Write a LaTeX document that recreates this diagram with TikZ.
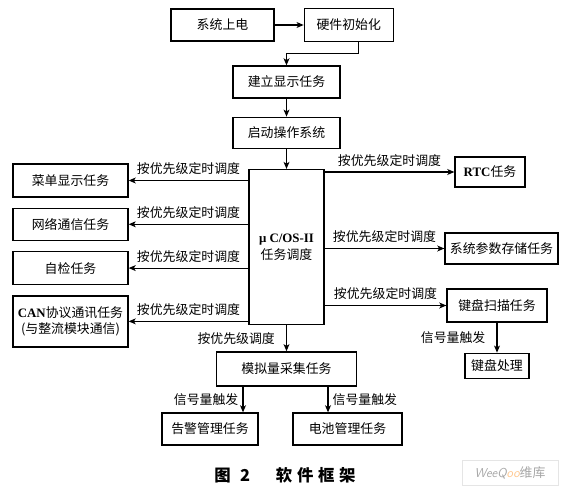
\documentclass[tikz,border=0pt]{standalone}
\usepackage{fontspec}
\setmainfont{Liberation Serif}
\newfontfamily\cjk{Noto Sans CJK SC}
\usetikzlibrary{positioning,arrows.meta}

\begin{document}
\begin{tikzpicture}[
	box/.style={draw, line width=1.1pt, minimum height=0.96cm, inner sep=1pt,
		align=center, font=\cjk\fontsize{11}{14}\selectfont},
	lbl/.style={font=\cjk\fontsize{11}{12}\selectfont, inner sep=1.5pt},
	arrow/.style={-{Stealth[length=6pt,width=5pt,inset=1.5pt]}, line width=0.9pt}
	]
	\useasboundingbox (0,0) rectangle (16.98,-14.73);
	\node[box, minimum width=3.09cm] (power) at (6.675,-0.75) {系统上电};
	\node[box, minimum width=2.67cm, minimum height=0.99cm, right=0.87cm of power] (hwinit) {硬件初始化};
	\node[box, minimum width=3.21cm] (disp) at (8.595,-2.46) {建立显示任务};
	\node[box, minimum width=3.21cm, minimum height=0.93cm, below=0.54cm of disp] (startos) {启动操作系统};
	\node[box, minimum width=2.25cm, minimum height=4.65cm, below=0.6cm of startos] (ucos) {{\rmfamily\bfseries μ C/OS-II}\\任务调度};

	\node[box, minimum width=3.45cm, minimum height=0.99cm] (menu) at (2.115,-5.415) {菜单显示任务};
	\node[box, minimum width=3.45cm, below=0.3cm of menu] (net) {网络通信任务};
	\node[box, minimum width=3.45cm, minimum height=0.99cm, below=0.3cm of net] (selfck) {自检任务};
	\node[box, minimum width=3.45cm, minimum height=1.53cm, below=0.3cm of selfck] (can) {{\rmfamily\bfseries CAN}协议通讯任务\\(与整流模块通信)};

	\node[box, minimum width=2.1cm, minimum height=0.9cm] (rtc) at (14.7,-5.16) {{\rmfamily\bfseries RTC}任务};
	\node[box, minimum width=3.39cm, minimum height=0.93cm] (param) at (15.045,-7.455) {系统参数存储任务};
	\node[box, minimum width=3cm, minimum height=0.99cm] (keyscan) at (14.91,-9.165) {键盘扫描任务};
	\node[box, line width=1.5pt, minimum width=1.92cm, minimum height=0.75cm, below=0.9cm of keyscan] (keyproc) {键盘处理};

	\node[box, minimum width=4.2cm, minimum height=1.02cm, below=0.78cm of ucos] (analog) {模拟量采集任务};
	\node[box, minimum width=2.88cm] (alarm) at (6.3,-12.87) {告警管理任务};
	\node[box, minimum width=3.27cm] (battery) at (10.425,-12.87) {电池管理任务};

	\node[font=\cjk\bfseries\fontsize{14}{16}\selectfont] (cap) at (8.55,-14.25) {图\hspace{8pt}2\hspace{22pt}软\hspace{4pt}件\hspace{4pt}框\hspace{4pt}架};
	\node[draw=black!10, text=black!35, minimum width=2.88cm, minimum height=0.75cm,
		font=\sffamily\itshape\fontsize{11}{12}\selectfont] (wm) at (15.3,-14.175) {WeeQ{\color{orange!45}oo}{\cjk\upshape 维库}};

	\draw[arrow] (power) -- (hwinit);
	\draw[arrow] ([xshift=0.3cm]hwinit.south) -- ++(0,-0.33) -| (disp.north);
	\draw[arrow] (disp) -- (startos);
	\draw[arrow] (startos) -- (ucos);

	\draw[arrow] (ucos.west |- menu) -- node[lbl, above=3pt] {按优先级定时调度} (menu);
	\draw[arrow] (ucos.west |- net) -- node[lbl, above=3pt] {按优先级定时调度} (net);
	\draw[arrow] (ucos.west |- selfck) -- node[lbl, above=3pt] {按优先级定时调度} (selfck);
	\draw[arrow] (ucos.west |- can) -- node[lbl, above=3pt] {按优先级定时调度} (can);

	\draw[arrow] (ucos.east |- rtc) -- node[lbl, above=3pt] {按优先级定时调度} (rtc);
	\draw[arrow] (ucos.east |- param) -- node[lbl, above=3pt] {按优先级定时调度} (param);
	\draw[arrow] (ucos.east |- keyscan) -- node[lbl, above=3pt] {按优先级定时调度} (keyscan);
	\draw[arrow] (keyscan.south) -- node[lbl, left=8pt] {信号量触发} (keyscan.south |- keyproc.north);

	\draw[arrow] (ucos) -- node[lbl, left=8pt] {按优先级调度} (analog);
	\coordinate (a1) at ([xshift=0.99cm]alarm.north);
	\coordinate (b1) at ([xshift=-0.585cm]battery.north);
	\draw[arrow] (a1 |- analog.south) -- node[lbl, left=2pt] {信号量触发} (a1);
	\draw[arrow] (b1 |- analog.south) -- node[lbl, right=2pt] {信号量触发} (b1);
\end{tikzpicture}
\end{document}
